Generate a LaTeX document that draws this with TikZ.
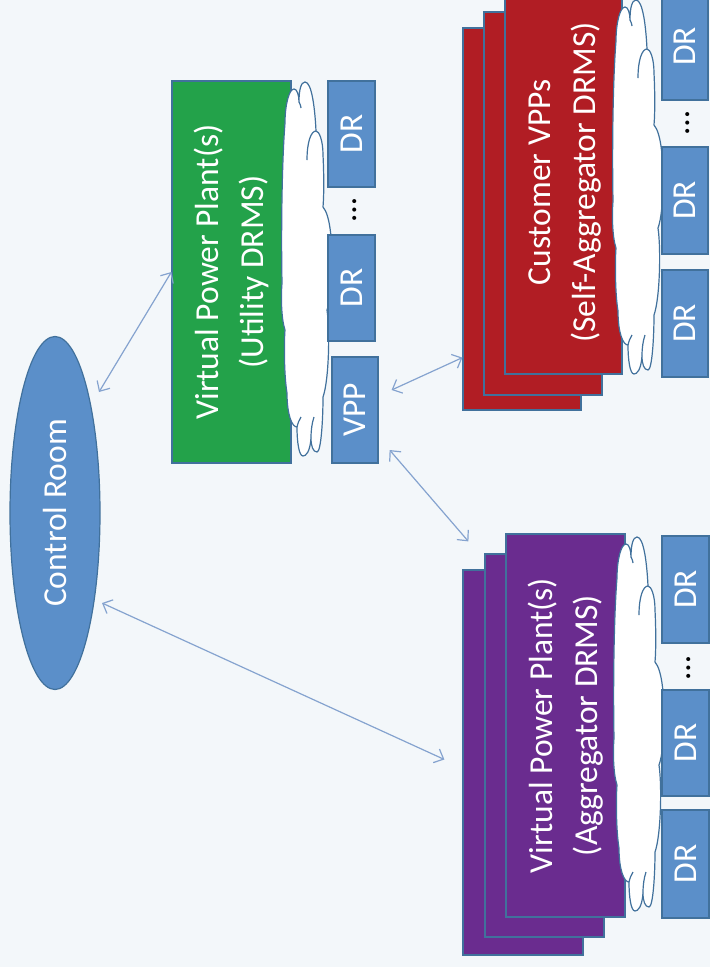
\documentclass[tikz,border=0pt]{standalone}
\usepackage{fontspec}
\setmainfont{Carlito}
\usetikzlibrary{shapes.geometric,calc,arrows.meta}

\definecolor{bgcol}{RGB}{243,247,250}
\definecolor{edgecol}{RGB}{65,113,156}
\definecolor{drblue}{RGB}{91,143,201}
\definecolor{utilgreen}{RGB}{35,162,74}
\definecolor{custred}{RGB}{177,29,36}
\definecolor{aggpurple}{RGB}{106,44,143}
\definecolor{linkcol}{RGB}{133,163,207}

\tikzset{
  bigfont/.style={font=\fontsize{33.5}{45}\selectfont},
  panel/.style={draw=edgecol, line width=1.2pt, inner sep=0pt, text=white, bigfont},
  drbox/.style={panel, fill=drblue, minimum width=46, minimum height=106},
  dotsnode/.style={inner sep=0pt, bigfont, text=black},
  link/.style={draw=linkcol, line width=1.2pt,
    arrows={Straight Barb[length=8pt,width=15pt]-Straight Barb[length=8pt,width=15pt]}},
  cloudline/.style={draw=edgecol, line width=1.2pt},
  pics/netcloud/.style={code={
    % scalloped outline of the communication cloud
    \path[cloudline, fill=white]
      (2,43) .. controls (2,25) and (6,9) .. (11,9)
      .. controls (14,9) and (16,15) .. (16,22)
      .. controls (16,10) and (18,2) .. (22,2)
      .. controls (29,2) and (32,30) .. (33,51)
      .. controls (36,51) and (40,60) .. (40,75)
      .. controls (41,95) and (41,115) .. (40,127)
      .. controls (47,135) and (49,160) .. (49,180)
      .. controls (49,205) and (47,222) .. (44,230)
      .. controls (47,250) and (46,300) .. (40,317)
      .. controls (40,340) and (38,372) .. (34,372)
      .. controls (30,372) and (28,366) .. (28,358)
      .. controls (27,372) and (23,376) .. (20,376)
      .. controls (16,376) and (14,362) .. (14,347)
      .. controls (9,347) and (4,335) .. (4,313)
      .. controls (1,295) and (1,262) .. (2,250)
      .. controls (-2,238) and (-2,215) .. (-1,203)
      .. controls (-2,150) and (-1,80) .. (2,43) -- cycle;
    % inner arcs of the overlapping puffs
    \draw[cloudline] (24,80) .. controls (24,62) and (28,51) .. (33,51);
    \draw[cloudline] (16,22) .. controls (17,24) and (18,26) .. (18,28);
    \draw[cloudline] (28,358) .. controls (28,350) and (29,343) .. (31,337);
    \draw[cloudline] (14,347) .. controls (15,343) and (16,340) .. (18,337);
  }}
}

\begin{document}
\begin{tikzpicture}[x=1pt, y=-1pt]
\useasboundingbox (0,0) rectangle (710,967);
\fill[bgcol] (0,0) rectangle (710,967);

% control room
\node[ellipse, draw=edgecol, line width=1.2pt, fill=drblue, text=white, bigfont,
      minimum width=90, minimum height=353, inner sep=0pt] (cr) at (55,513)
      {\rotatebox{90}{Control Room}};

% utility DRMS group
\node[panel, fill=utilgreen, minimum width=119, minimum height=382] (gbox) at (231.5,272)
  {\rotatebox{90}{\begin{tabular}{@{}c@{}}Virtual Power Plant(s)\\(Utility DRMS)\end{tabular}}};
\pic at (283,80) {netcloud};
\node[drbox, minimum width=47] (gdr1) at (351.5,134) {\rotatebox{90}{DR}};
\node[dotsnode] (gdots) at (355,210) {\rotatebox{90}{…}};
\node[drbox, minimum width=47] (gdr2) at (351.5,288) {\rotatebox{90}{DR}};
\node[drbox] (vpp) at (355,410) {\rotatebox{90}{VPP}};

% self-aggregator group
\node[panel, fill=custred, minimum width=118, minimum height=382] (rback) at (522,219) {};
\node[panel, fill=custred, minimum width=118, minimum height=383] (rmid) at (543,203.5) {};
\node[panel, fill=custred, minimum width=117, minimum height=383] (rfront) at (563.5,182.5)
  {\rotatebox{90}{\begin{tabular}{@{}c@{}}Customer VPPs\\(Self-Aggregator DRMS)\end{tabular}}};
\pic at (614,-2) {netcloud};
\node[drbox, minimum height=107] (rdr1) at (685,46.5) {\rotatebox{90}{DR}};
\node[dotsnode] (rdots) at (688,123) {\rotatebox{90}{…}};
\node[drbox, minimum height=107] (rdr2) at (685,200.5) {\rotatebox{90}{DR}};
\node[drbox, minimum height=107] (rdr3) at (685,323.5) {\rotatebox{90}{DR}};

% aggregator group
\node[panel, fill=aggpurple, minimum width=120, minimum height=385] (pback) at (523,762.5) {};
\node[panel, fill=aggpurple, minimum width=119, minimum height=383] (pmid) at (544.5,745.5) {};
\node[panel, fill=aggpurple, minimum width=119, minimum height=383] (pfront) at (565.5,725.5)
  {\rotatebox{90}{\begin{tabular}{@{}c@{}}Virtual Power Plant(s)\\(Aggregator DRMS)\end{tabular}}};
\pic at (615,535) {netcloud};
\node[drbox, minimum width=47, minimum height=107] (pdr1) at (685.5,589.5) {\rotatebox{90}{DR}};
\node[dotsnode] (pdots) at (689,668) {\rotatebox{90}{…}};
\node[drbox, minimum width=47] (pdr2) at (685.5,743) {\rotatebox{90}{DR}};
\node[drbox, minimum width=47, minimum height=108] (pdr3) at (685.5,864) {\rotatebox{90}{DR}};

% links
\draw[link] ($(cr.center)+(44,-121)$) -- (gbox.west);
\draw[link] ($(cr.center)+(47,90)$) -- ($(pback.west)+(-18,-3)$);
\draw[link] ($(vpp.east)+(13,-20)$) -- ($(rback.south west)+(0,-53)$);
\draw[link] ($(vpp.east)+(11,40)$) -- ($(pback.north west)+(6,-28)$);
\end{tikzpicture}
\end{document}
